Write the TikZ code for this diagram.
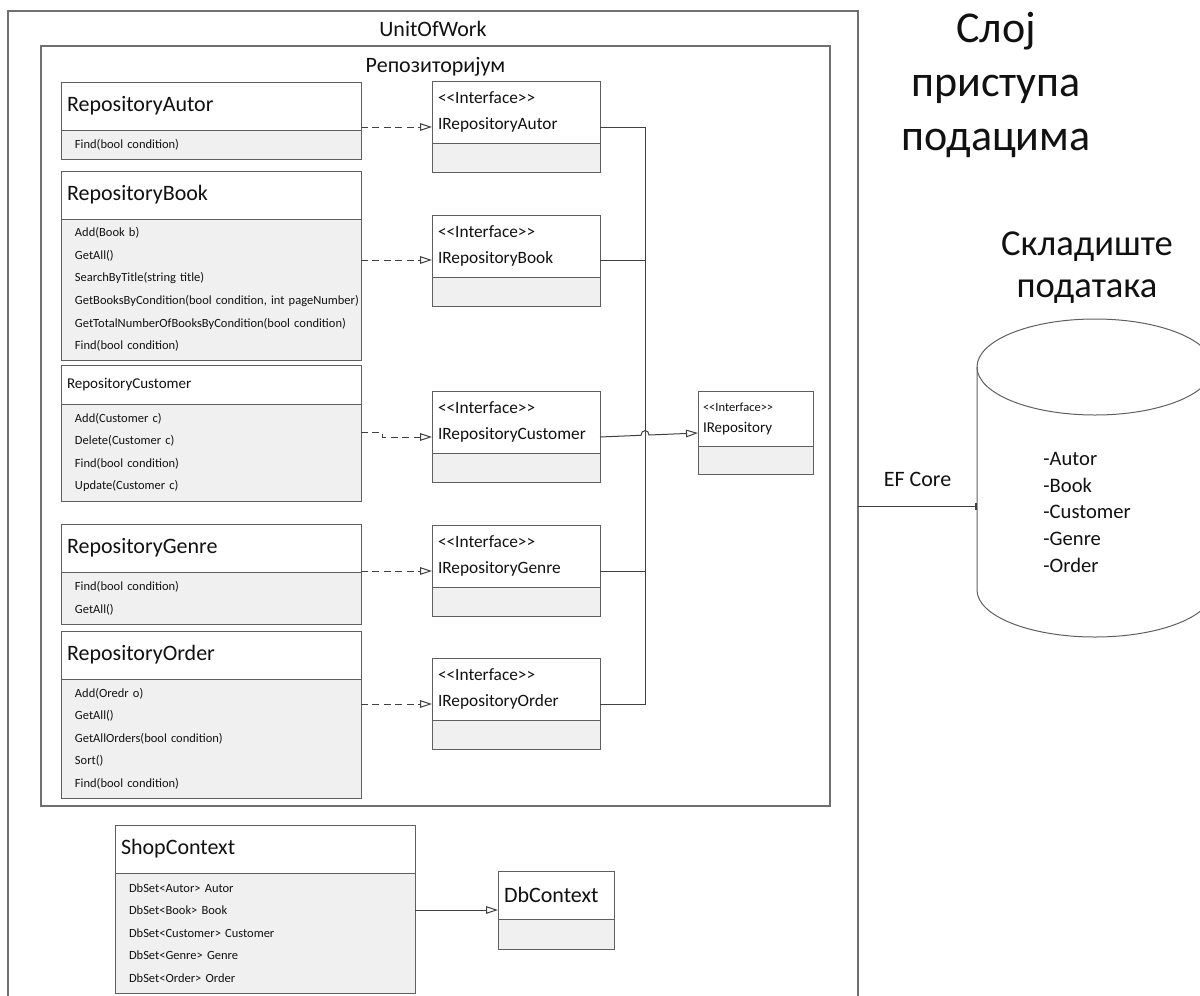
\documentclass[tikz,border=0pt]{standalone}
\usepackage{fontspec}
\setmainfont{Carlito}
\usepackage{tikz}
\usetikzlibrary{positioning,arrows.meta}

\definecolor{boxline}{HTML}{5F5F5F}
\definecolor{framec}{HTML}{707070}
\definecolor{bodyfill}{HTML}{F0F0F0}
\definecolor{conn}{HTML}{404040}
\definecolor{txt}{HTML}{111111}

\newcommand\titlefont{\fontsize{11}{13}\selectfont}
\newcommand\smalltitlefont{\fontsize{7.5}{9}\selectfont}
\newcommand\methodfont{\fontsize{6.25}{11.3}\selectfont}
\newcommand\intffont{\fontsize{8.65}{13}\selectfont}
\newcommand\stereo{<{}<Interface>{}>}

\begin{document}
\begin{tikzpicture}[
  x=0.5pt, y=-0.5pt,
  every node/.style={text=txt},
  frame/.style={draw=framec, line width=0.6pt, anchor=north west, inner sep=0pt, outer sep=0pt},
  frametitle/.style={anchor=base, inner sep=0pt, font=\titlefont},
  clshead/.style={draw=boxline, line width=0.5pt, fill=white, anchor=north west, outer sep=0pt, minimum height=24pt, text width=144pt, inner xsep=3pt, align=left, font=\titlefont},
  clsbody/.style={draw=boxline, line width=0.5pt, fill=bodyfill, outer sep=0pt, text width=145pt, inner xsep=2.5pt, inner ysep=1pt, align=left, font=\methodfont,
    execute at begin node={\leftskip=4.5pt\rightskip=0pt plus 1fil minus 6pt}},
  intfhead/.style={draw=boxline, line width=0.5pt, fill=white, anchor=north west, outer sep=0pt, minimum height=31pt, text width=78pt, inner xsep=3pt, align=left, font=\intffont},
  intfbody/.style={draw=boxline, line width=0.5pt, fill=bodyfill, outer sep=0pt, minimum width=84pt, minimum height=14.5pt, inner sep=0pt},
  real/.style={draw=conn, line width=0.5pt, dash pattern=on 3.5pt off 2.2pt, -{Triangle[open, length=6pt, width=3.8pt]}},
  gen/.style={draw=conn, line width=0.5pt},
  genarr/.style={gen, -{Triangle[open, length=6pt, width=3.8pt]}},
  efline/.style={draw=conn, line width=0.5pt, -{Bar[width=3.5pt, line width=1pt]}},
  bigtitle/.style={anchor=north, align=center, inner sep=0pt, font=\fontsize{22}{27}\selectfont},
  storetitle/.style={anchor=north, align=center, inner sep=0pt, font=\fontsize{18.3}{21}\selectfont},
  dbline/.style={draw=boxline, line width=0.5pt},
  dblist/.style={anchor=north west, align=left, inner sep=0pt, font=\fontsize{10.3}{13.3}\selectfont}
]
\useasboundingbox (0,0) rectangle (1200,996);
\clip (0,0) rectangle (1200,996);

% frames
\node[frame, minimum width=425pt, minimum height=520pt] (uow) at (8,11) {};
\node[frametitle] (uowT) at ([yshift=-12.5pt]uow.north) {UnitOfWork};
\node[frame, minimum width=394.5pt, minimum height=380pt] (repo) at (41,46) {};
\node[frametitle] (repoT) at ([yshift=-13pt]repo.north) {Репозиторијум};

% repository classes
\node[clshead] (autorH) at (61,82) {RepositoryAutor};
\node[clsbody, below=0pt of autorH, minimum height=14.5pt] (autorB) {Find(bool condition)};
\node[clshead, below=6pt of autorB] (bookH) {RepositoryBook};
\node[clsbody, below=0pt of bookH, minimum height=70.5pt] (bookB) {Add(Book b)\\GetAll()\\SearchByTitle(string title)\\GetBooksByCondition(bool condition, int pageNumber)\\GetTotalNumberOfBooksByCondition(bool condition)\\Find(bool condition)};
\node[clshead, below=2.5pt of bookB, minimum height=19.5pt, font=\smalltitlefont] (custH) {RepositoryCustomer};
\node[clsbody, below=0pt of custH, minimum height=48.5pt] (custB) {Add(Customer c)\\Delete(Customer c)\\Find(bool condition)\\Update(Customer c)};
\node[clshead, below=11.5pt of custB] (genreH) {RepositoryGenre};
\node[clsbody, below=0pt of genreH, minimum height=26pt] (genreB) {Find(bool condition)\\GetAll()};
\node[clshead, below=3.5pt of genreB] (orderH) {RepositoryOrder};
\node[clsbody, below=0pt of orderH, minimum height=59.5pt] (orderB) {Add(Oredr o)\\GetAll()\\GetAllOrders(bool condition)\\Sort()\\Find(bool condition)};

% interfaces
\node[intfhead] (iautorH) at (432,81) {\stereo\\IRepositoryAutor};
\node[intfbody, below=0pt of iautorH] (iautorB) {};
\node[intfhead, below=21.5pt of iautorB] (ibookH) {\stereo\\IRepositoryBook};
\node[intfbody, below=0pt of ibookH] (ibookB) {};
\node[intfhead, below=42.5pt of ibookB] (icustH) {\stereo\\IRepositoryCustomer};
\node[intfbody, below=0pt of icustH] (icustB) {};
\node[intfhead, below=21.5pt of icustB] (igenreH) {\stereo\\IRepositoryGenre};
\node[intfbody, below=0pt of igenreH] (igenreB) {};
\node[intfhead, below=21pt of igenreB] (iorderH) {\stereo\\IRepositoryOrder};
\node[intfbody, below=0pt of iorderH] (iorderB) {};

\node[intfhead, text width=52.5pt, inner xsep=2.5pt, minimum height=27.5pt, font=\fontsize{7.5}{10.5}\selectfont] (irepoH) at (698,391) {{\fontsize{6.25}{10.5}\selectfont\stereo}\\IRepository};
\node[intfbody, below=0pt of irepoH, minimum width=57.5pt, minimum height=14pt] (irepoB) {};

% context
\node[clshead] (shopH) at (115,825) {ShopContext};
\node[clsbody, below=0pt of shopH, minimum height=60pt] (shopB) {DbSet<Autor> Autor\\DbSet<Book> Book\\DbSet<Customer> Customer\\DbSet<Genre> Genre\\DbSet<Order> Order};
\node[clshead, text width=52pt] (dbcH) at (498,871) {DbContext};
\node[intfbody, below=0pt of dbcH, minimum width=58pt, minimum height=15pt] (dbcB) {};

% data layer side
\node[bigtitle] (layerT) at (996,12) {Слој\\приступа\\подацима};
\node[storetitle] (storeT) at (1087,231) {Складиште\\података};

% storage cylinder, in pt with y up
\begin{scope}[shift={(1095,367)}, x=1pt, y=1pt]
  \draw[dbline] (-59,0) -- (-59,-111.5) arc[start angle=180, end angle=360, x radius=59, y radius=23.5] -- (59,0);
  \draw[dbline] (0,0) ellipse[x radius=59, y radius=24];
  \coordinate (dbW) at (-59,-69.5);
\end{scope}
\node[dblist] (dbL) at (1043,452) {-Autor\\-Book\\-Customer\\-Genre\\-Order};

% connectors
\coordinate (ra) at ([yshift=-23pt]iautorH.north west);
\coordinate (rb) at ([yshift=-22.5pt]ibookH.north west);
\coordinate (rc) at ([yshift=-23pt]icustH.north west);
\coordinate (rg) at ([yshift=-23pt]igenreH.north west);
\coordinate (ro) at ([yshift=-23pt]iorderH.north west);
\coordinate (rr) at ([yshift=-21pt]irepoH.north west);
\coordinate (rs) at ([yshift=-19.5pt]dbcH.north west);

\draw[real] (autorB.east |- ra) -- (ra);
\draw[real] (bookB.east |- rb) -- (rb);
\draw[real] (custB.east |- rc) ++(0,-4.5) -- ++(21,0) -- ++(0,4.5) -- (rc);
\draw[real] (genreB.east |- rg) -- (rg);
\draw[real] (orderB.east |- ro) -- (ro);

\coordinate (bus) at ([xshift=22.5pt]iautorH.east |- ra);
\draw[gen] (iautorH.east |- ra) -- (bus) -- (bus |- ro) -- (iorderH.east |- ro);
\draw[gen] (ibookH.east |- rb) -- (bus |- rb);
\draw[gen] (igenreH.east |- rg) -- (bus |- rg);
\path (icustH.east |- rc) ++(41,-1.7) coordinate (hopa) ++(8,-0.3) coordinate (hopb);
\draw[genarr] (icustH.east |- rc) -- (hopa) .. controls ([yshift=3pt]hopa) and ([yshift=3pt]hopb) .. (hopb) -- (rr);

\draw[genarr] (shopB.east |- rs) -- (rs);

\draw[efline] (uow.east |- dbW) -- (dbW) node[midway, above=6pt, font=\titlefont] (efT) {EF Core};
\end{tikzpicture}
\end{document}
